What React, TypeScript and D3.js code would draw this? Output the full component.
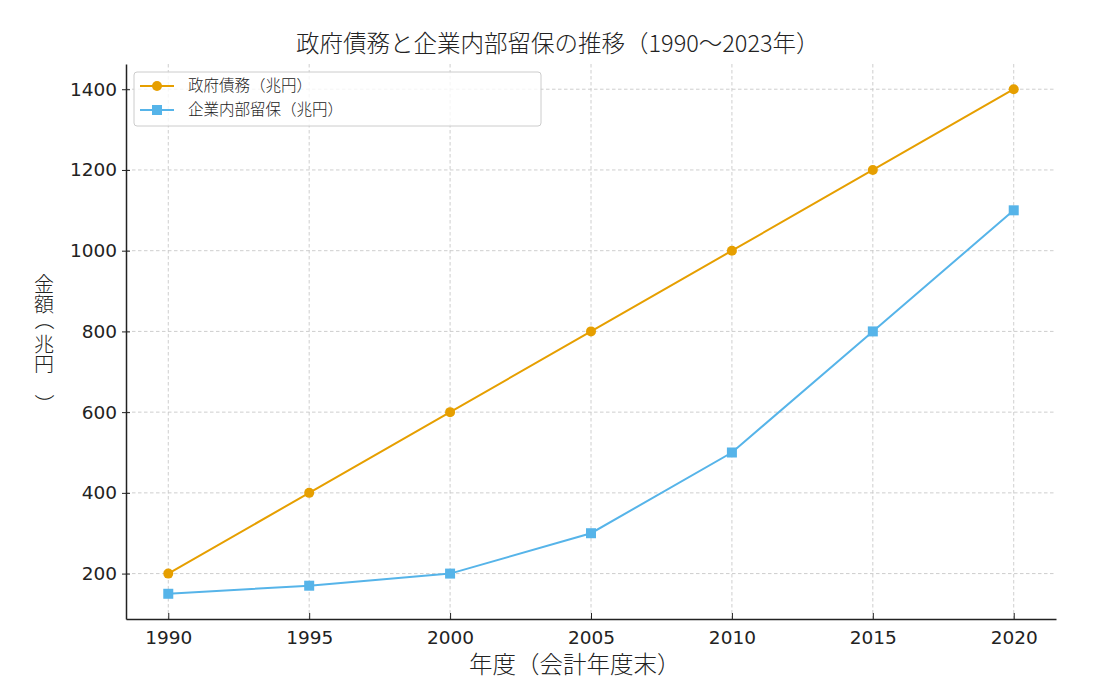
import * as d3 from 'd3';
import { useEffect, useRef } from 'react';

const years = [1990, 1995, 2000, 2005, 2010, 2015, 2020];
const govDebt = [200, 400, 600, 800, 1000, 1200, 1400];
const retained = [150, 170, 200, 300, 500, 800, 1100];
const yTicks = [200, 400, 600, 800, 1000, 1200, 1400];
const seriesNames = ['政府債務（兆円）', '企業内部留保（兆円）'];
const yLabelChars = ['金', '額', '（', '兆', '円', '）'];

const NUM_FONT = "'DejaVu Sans', sans-serif";
const CJK_FONT = "'Noto Sans CJK JP', sans-serif";

export default function App() {
  const ref = useRef<SVGSVGElement | null>(null);

  useEffect(() => {
    const svg = d3.select(ref.current);
    svg.selectAll('*').remove();
    const width = 1093;
    const height = 688;
    const margin = { top: 64, right: 37, bottom: 69, left: 126 };
    const innerW = width - margin.left - margin.right;
    const innerH = height - margin.top - margin.bottom;

    const x = d3.scaleLinear().domain([1988.5, 2021.5]).range([0, innerW]);
    const y = d3.scaleLinear().domain([87.5, 1462.5]).range([innerH, 0]);

    const g = svg.append('g').attr('transform', `translate(${margin.left},${margin.top})`);

    // grid
    g.selectAll('line.gx')
      .data(years)
      .enter()
      .append('line')
      .attr('x1', (d) => x(d))
      .attr('x2', (d) => x(d))
      .attr('y1', 0)
      .attr('y2', innerH)
      .attr('stroke', '#c8c8c8')
      .attr('stroke-width', 0.9)
      .attr('stroke-dasharray', '3.5,2.5');
    g.selectAll('line.gy')
      .data(yTicks)
      .enter()
      .append('line')
      .attr('x1', 0)
      .attr('x2', innerW)
      .attr('y1', (d) => y(d))
      .attr('y2', (d) => y(d))
      .attr('stroke', '#c8c8c8')
      .attr('stroke-width', 0.9)
      .attr('stroke-dasharray', '3.5,2.5');

    // axes
    const xAxis = g
      .append('g')
      .attr('transform', `translate(0,${innerH})`)
      .call(d3.axisBottom(x).tickValues(years).tickFormat(d3.format('d')).tickSizeInner(-6).tickSizeOuter(0).tickPadding(12));
    const yAxis = g
      .append('g')
      .call(d3.axisLeft(y).tickValues(yTicks).tickFormat(d3.format('d')).tickSizeInner(4).tickSizeOuter(0).tickPadding(5));
    yAxis.selectAll('.tick line').attr('x2', 4).attr('x1', -4);
    [xAxis, yAxis].forEach((a) => {
      a.select('.domain').attr('stroke', '#222').attr('stroke-width', 1.5);
      a.selectAll('.tick line').attr('stroke', '#222').attr('stroke-width', 1);
      a.selectAll('.tick text').attr('font-size', 18.5).attr('font-family', NUM_FONT).attr('fill', '#222');
    });

    const colors = ['#E69F00', '#56B4E9'];
    const data = [govDebt, retained];

    data.forEach((vals, i) => {
      const line = d3
        .line<number>()
        .x((_, j) => x(years[j]))
        .y((d) => y(d));
      g.append('path').datum(vals).attr('d', line).attr('fill', 'none').attr('stroke', colors[i]).attr('stroke-width', 2);
      if (i === 0) {
        g.selectAll('circle.m')
          .data(vals)
          .enter()
          .append('circle')
          .attr('cx', (_, j) => x(years[j]))
          .attr('cy', (d) => y(d))
          .attr('r', 5)
          .attr('fill', colors[i]);
      } else {
        g.selectAll('rect.m')
          .data(vals)
          .enter()
          .append('rect')
          .attr('x', (_, j) => x(years[j]) - 5)
          .attr('y', (d) => y(d) - 5)
          .attr('width', 10)
          .attr('height', 10)
          .attr('fill', colors[i]);
      }
    });

    // legend
    const lg = svg.append('g').attr('transform', 'translate(134,72)');
    lg.append('rect')
      .attr('width', 407)
      .attr('height', 54)
      .attr('rx', 3)
      .attr('fill', 'white')
      .attr('fill-opacity', 0.8)
      .attr('stroke', '#cccccc');
    seriesNames.forEach((name, i) => {
      const yy = 14 + i * 24;
      lg.append('line').attr('x1', 6).attr('x2', 40).attr('y1', yy).attr('y2', yy).attr('stroke', colors[i]).attr('stroke-width', 2);
      if (i === 0) lg.append('circle').attr('cx', 23).attr('cy', yy).attr('r', 5).attr('fill', colors[i]);
      else lg.append('rect').attr('x', 18).attr('y', yy - 5).attr('width', 10).attr('height', 10).attr('fill', colors[i]);
      lg.append('text')
        .attr('x', 54)
        .attr('y', yy)
        .attr('dy', '0.35em')
        .attr('font-size', 15.5)
        .attr('font-family', CJK_FONT)
        .attr('font-weight', 300)
        .attr('fill', '#222')
        .text(name);
    });

    // title & labels
    svg.append('text')
      .attr('x', 296)
      .attr('y', 44)
      .attr('dy', '0.35em')
      .attr('font-size', 23.5)
      .attr('font-family', CJK_FONT)
      .attr('font-weight', 300)
      .attr('fill', '#222')
      .text('政府債務と企業内部留保の推移（1990〜2023年）');
    svg.append('text')
      .attr('x', 469)
      .attr('y', 665)
      .attr('dy', '0.35em')
      .attr('font-size', 23.5)
      .attr('font-family', CJK_FONT)
      .attr('font-weight', 300)
      .attr('fill', '#222')
      .text('年度（会計年度末）');
    // vertical y label: upright CJK characters, parentheses turned 90°
    svg.append('g')
      .selectAll('text')
      .data(yLabelChars)
      .enter()
      .append('text')
      .attr('x', 0)
      .attr('y', 0)
      .attr('dy', '0.35em')
      .attr('text-anchor', 'middle')
      .attr('transform', (d, i) => {
        if (d === '（') return `translate(44,${320 + (i - 2) * 20}) rotate(90)`;
        if (d === '）') return `translate(44,${404 + (i - 5) * 20}) rotate(90)`;
        return `translate(44,${285 + i * 20})`;
      })
      .attr('font-size', 20)
      .attr('font-family', CJK_FONT)
      .attr('font-weight', 300)
      .attr('fill', '#222')
      .text((d) => d);
  }, []);

  return <svg ref={ref} width={1093} height={688} style={{ display: 'block', position: 'absolute', left: 0, top: 0 }} />;
}
